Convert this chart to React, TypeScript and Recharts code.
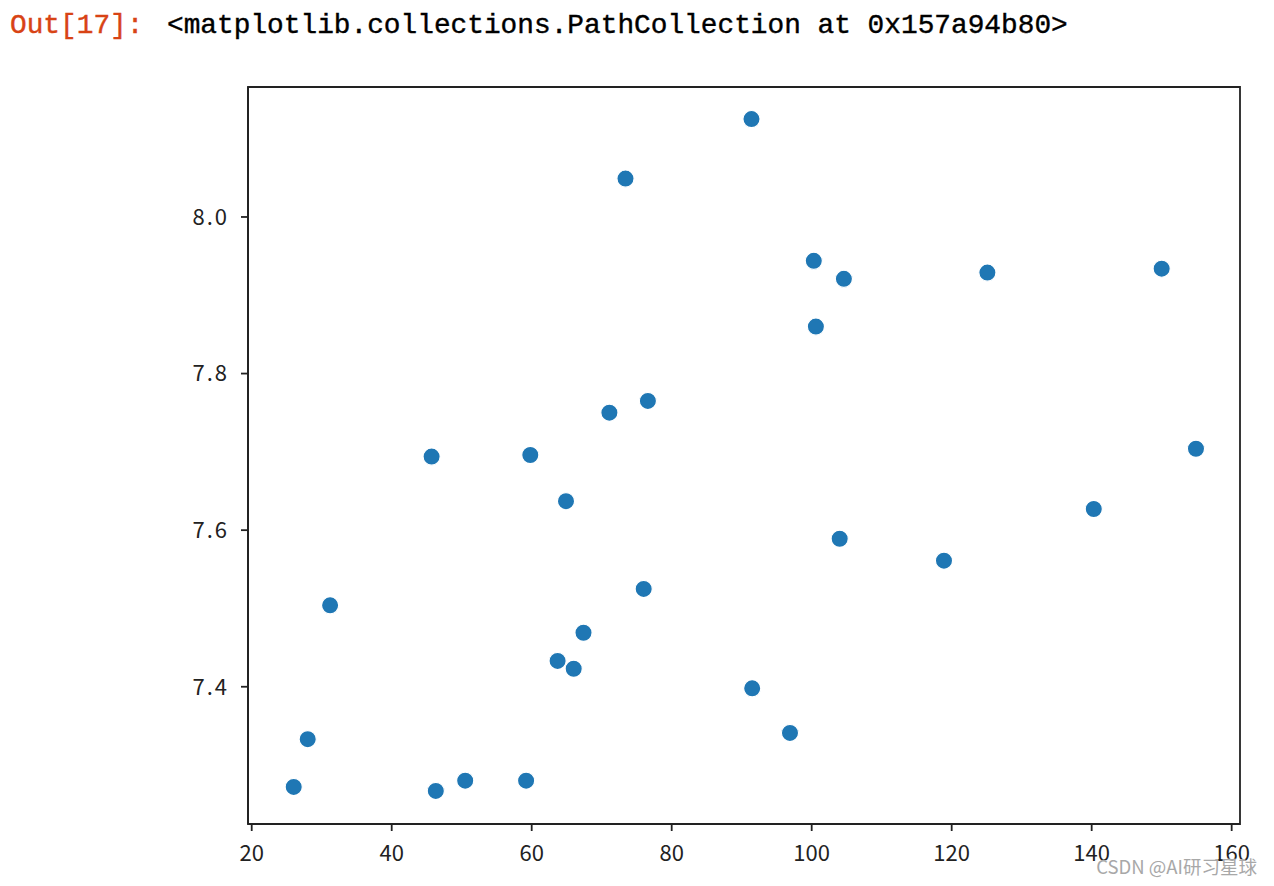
import React from 'react';
import { ScatterChart, Scatter, XAxis, YAxis, ReferenceArea } from 'recharts';

const xValues: number[] = [
  91.4, 73.4, 100.3, 104.6, 125.1, 150.0, 100.6, 76.6, 71.1, 45.7,
  59.8, 154.9, 64.9, 140.3, 104.0, 118.9, 76.0, 31.2, 67.4, 63.7,
  66.0, 91.5, 28.0, 96.9, 26.0, 46.3, 50.5, 59.2,
];
const yValues: number[] = [
  8.125, 8.049, 7.944, 7.921, 7.929, 7.934, 7.860, 7.765, 7.750, 7.694,
  7.696, 7.704, 7.637, 7.627, 7.589, 7.561, 7.525, 7.504, 7.469, 7.433,
  7.423, 7.398, 7.333, 7.341, 7.272, 7.267, 7.280, 7.280,
];
const xTicks: number[] = [20, 40, 60, 80, 100, 120, 140, 160];
const yTicks: number[] = [7.4, 7.6, 7.8, 8.0];

const X_DOMAIN: [number, number] = [19.47, 161.19];
const Y_DOMAIN: [number, number] = [7.2247, 8.166];

const data = xValues.map((x, i) => ({ x, y: yValues[i] }));

const Dot = (props: any) => {
  const { cx, cy } = props;
  if (cx == null || cy == null) return null;
  return <circle cx={cx} cy={cy} r={8.6} fill="#1f77b4" stroke="#ffffff" strokeWidth={1.2} />;
};

const tickStyle = { fill: '#222', fontSize: 22, fontFamily: '"Noto Sans CJK SC", sans-serif' };

export default function App() {
  return (
    <div style={{ position: 'absolute', left: 0, top: 0, width: 1274, height: 886, background: '#fff' }}>
      <ScatterChart
        width={1274}
        height={886}
        margin={{ top: 87, right: 34, bottom: 22, left: 168 }}
      >
        <XAxis
          type="number"
          dataKey="x"
          domain={X_DOMAIN}
          allowDataOverflow
          ticks={xTicks}
          height={40}
          tickSize={7}
          tickMargin={14}
          tick={tickStyle}
          stroke="#222"
          strokeWidth={1.8}
          tickFormatter={(v: number) => String(v)}
        />
        <YAxis
          type="number"
          dataKey="y"
          domain={Y_DOMAIN}
          allowDataOverflow
          ticks={yTicks}
          width={80}
          tickSize={7}
          tickMargin={12}
          tick={{ ...tickStyle, letterSpacing: 2 }}
          stroke="#222"
          strokeWidth={1.8}
          tickFormatter={(v: number) => v.toFixed(1)}
        />
        <ReferenceArea
          x1={X_DOMAIN[0]}
          x2={X_DOMAIN[1]}
          y1={Y_DOMAIN[0]}
          y2={Y_DOMAIN[1]}
          fill="none"
          fillOpacity={0}
          stroke="#222"
          strokeWidth={1.8}
          ifOverflow="visible"
        />
        <Scatter data={data} shape={Dot} isAnimationActive={false} />
      </ScatterChart>
      <svg
        width={1274}
        height={886}
        style={{ position: 'absolute', left: 0, top: 0, pointerEvents: 'none' }}
      >
        <text x={10} y={32.5} fontFamily='"Liberation Mono", monospace' fontSize={27.8} fill="#d84315" stroke="#d84315" strokeWidth={0.4}>
          Out[17]:
        </text>
        <text x={167} y={32.5} fontFamily='"Liberation Mono", monospace' fontSize={27.8} fill="#000" stroke="#000" strokeWidth={0.4}>
          {'<matplotlib.collections.PathCollection at 0x157a94b80>'}
        </text>
        <text
          x={1257}
          y={874}
          textAnchor="end"
          fontFamily='"Noto Sans CJK SC", sans-serif'
          fontSize={18.5}
          fill="#a8a8a8"
          stroke="#ffffff"
          strokeWidth={0.6}
          paintOrder="stroke"
        >
          CSDN @AI研习星球
        </text>
      </svg>
    </div>
  );
}
